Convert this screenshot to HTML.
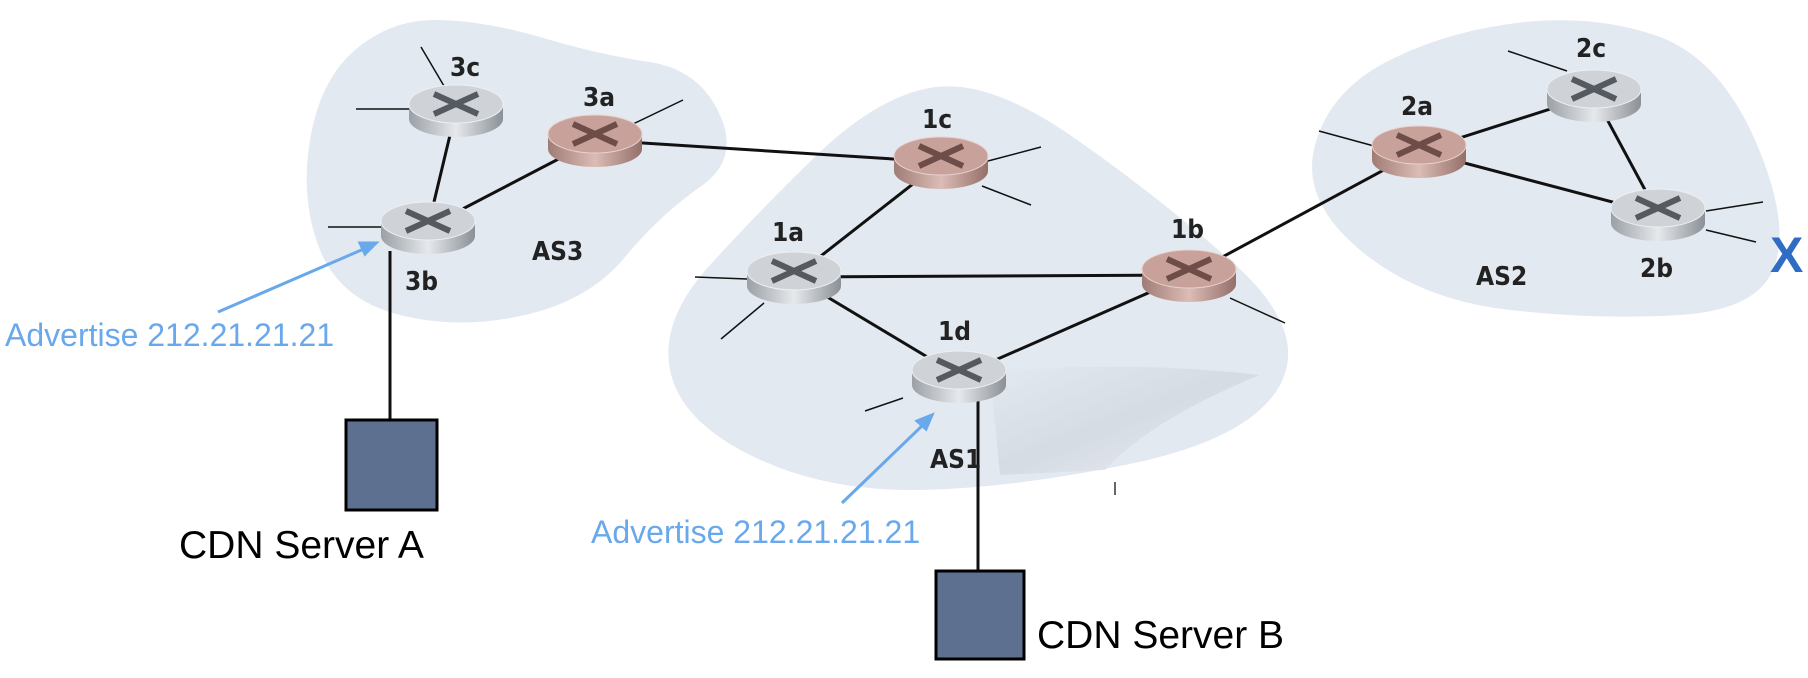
<!DOCTYPE html>
<html><head><meta charset="utf-8"><style>
html,body{margin:0;padding:0;background:#fff;width:1808px;height:678px;overflow:hidden}
svg{display:block}
.lbl{font-family:"DejaVu Sans Condensed","Liberation Sans",sans-serif;font-weight:bold;font-size:26px;fill:#222}
.adv{font-family:"Liberation Sans",sans-serif;font-size:32px;fill:#6aa8ec}
.cdn{font-family:"Liberation Sans",sans-serif;font-size:39px;fill:#000}
</style></head><body>
<svg width="1808" height="678" viewBox="0 0 1808 678" xmlns="http://www.w3.org/2000/svg">
<defs>
<linearGradient id="gs" x1="0" x2="1"><stop offset="0" stop-color="#9aa0a6"/><stop offset=".5" stop-color="#e6e9ec"/><stop offset="1" stop-color="#8a9096"/></linearGradient>
<linearGradient id="rs" x1="0" x2="1"><stop offset="0" stop-color="#a07c76"/><stop offset=".5" stop-color="#dcbcb6"/><stop offset="1" stop-color="#946f69"/></linearGradient>
<linearGradient id="curl" x1="0" y1="0" x2="1" y2="1"><stop offset="0" stop-color="#e3e9f1"/><stop offset=".5" stop-color="#d2d8e0"/><stop offset="1" stop-color="#eef1f5"/></linearGradient>
<g id="gr">
<ellipse cx="0" cy="9" rx="47" ry="18" fill="url(#gs)"/>
<rect x="-47" y="-6" width="94" height="15" fill="url(#gs)"/>
<ellipse cx="0" cy="-6" rx="47" ry="19" fill="#cfd3d8" stroke="#eef0f2" stroke-width="1"/>
<path d="M-22,-16 L22,4 M22,-16 L-22,4" stroke="#555a60" stroke-width="6"/>
</g>
<g id="rr">
<ellipse cx="0" cy="9" rx="47" ry="18" fill="url(#rs)"/>
<rect x="-47" y="-6" width="94" height="15" fill="url(#rs)"/>
<ellipse cx="0" cy="-6" rx="47" ry="19" fill="#c7a19a" stroke="#e8d2ce" stroke-width="1"/>
<path d="M-22,-16 L22,4 M22,-16 L-22,4" stroke="#6e4c47" stroke-width="6"/>
</g>
</defs>
<g fill="#e3e9f1">
<path d="M355,50 Q390,20 435,20 Q480,20 540,37 Q600,55 650,62 Q700,70 720,115 Q740,160 700,187 Q660,215 625,257 Q590,300 525,315 Q460,330 400,315 Q340,300 320,250 Q300,200 310,140 Q320,80 355,50 Z"/>
<path d="M935,87 Q990,80 1070,135 Q1150,190 1230,260 Q1310,330 1280,385 Q1250,440 1125,465 Q1000,490 910,490 Q820,490 750,455 Q680,420 670,370 Q660,320 710,265 Q760,210 820,152 Q880,95 935,87 Z"/>
<path d="M1390,60 Q1450,30 1525,22 Q1600,15 1660,37 Q1720,60 1755,140 Q1790,220 1775,265 Q1760,310 1680,315 Q1600,320 1510,310 Q1420,300 1360,250 Q1300,200 1315,145 Q1330,90 1390,60 Z"/>
</g>
<path d="M990,372 Q1130,360 1260,375 Q1150,420 1105,470 L1000,475 Z" fill="url(#curl)" opacity=".8"/>
<line x1="1115" y1="482" x2="1115" y2="495" stroke="#333" stroke-width="1.5"/>
<g stroke="#111" stroke-width="1.5">
<line x1="421" y1="47" x2="444" y2="86"/><line x1="356" y1="109" x2="409" y2="109"/>
<line x1="683" y1="100" x2="631" y2="125"/><line x1="328" y1="227" x2="381" y2="227"/>
<line x1="695" y1="277" x2="747" y2="279"/><line x1="721" y1="339" x2="764" y2="303"/>
<line x1="865" y1="411" x2="903" y2="398"/>
<line x1="1041" y1="147" x2="988" y2="161"/><line x1="1031" y1="205" x2="982" y2="186"/>
<line x1="1285" y1="323" x2="1230" y2="298"/>
<line x1="1319" y1="131" x2="1374" y2="146"/><line x1="1508" y1="51" x2="1567" y2="71"/>
<line x1="1763" y1="202" x2="1706" y2="211"/><line x1="1756" y1="242" x2="1706" y2="230"/>
</g>
<g stroke="#111" stroke-width="3">
<line x1="456" y1="110" x2="428" y2="227"/><line x1="428" y1="227" x2="595" y2="140"/>
<line x1="595" y1="140" x2="941" y2="162"/><line x1="941" y1="162" x2="794" y2="277"/>
<line x1="794" y1="277" x2="1189" y2="275"/><line x1="794" y1="277" x2="959" y2="376"/>
<line x1="959" y1="376" x2="1189" y2="275"/><line x1="1189" y1="275" x2="1419" y2="151"/>
<line x1="1419" y1="151" x2="1594" y2="95"/><line x1="1419" y1="151" x2="1658" y2="214"/>
<line x1="1594" y1="95" x2="1658" y2="214"/>
<line x1="390" y1="251" x2="390" y2="420"/><line x1="978" y1="395" x2="978" y2="571"/>
</g>
<use href="#gr" x="456" y="110"/><use href="#rr" x="595" y="140"/><use href="#gr" x="428" y="227"/>
<use href="#rr" x="941" y="162"/><use href="#gr" x="794" y="277"/><use href="#rr" x="1189" y="275"/>
<use href="#gr" x="959" y="376"/><use href="#rr" x="1419" y="151"/><use href="#gr" x="1594" y="95"/>
<use href="#gr" x="1658" y="214"/>
<rect x="346" y="420" width="91" height="90" fill="#5e7090" stroke="#000" stroke-width="3"/>
<rect x="936" y="571" width="88" height="88" fill="#5e7090" stroke="#000" stroke-width="3"/>
<g stroke="#6aa8ec" stroke-width="3" fill="#6aa8ec">
<line x1="218" y1="312" x2="366" y2="248"/><polygon points="376,243 360,243 365,254"/>
<line x1="842" y1="503" x2="925" y2="423"/><polygon points="932,415 917,421 926,429"/>
</g>
<g class="lbl">
<text x="450" y="76">3c</text><text x="583" y="106">3a</text><text x="405" y="290">3b</text>
<text x="532" y="260">AS3</text><text x="772" y="241">1a</text><text x="922" y="128">1c</text>
<text x="1171" y="238">1b</text><text x="938" y="340">1d</text><text x="930" y="468">AS1</text>
<text x="1401" y="115">2a</text><text x="1576" y="57">2c</text><text x="1640" y="277">2b</text>
<text x="1476" y="285">AS2</text>
</g>
<text x="1770" y="272" font-family="Liberation Sans,sans-serif" font-weight="bold" font-size="50" fill="#2f6cc4">X</text>
<text class="adv" x="5" y="346">Advertise 212.21.21.21</text>
<text class="adv" x="591" y="543">Advertise 212.21.21.21</text>
<text class="cdn" x="179" y="558">CDN Server A</text>
<text class="cdn" x="1037" y="648">CDN Server B</text>
</svg>
</body></html>
